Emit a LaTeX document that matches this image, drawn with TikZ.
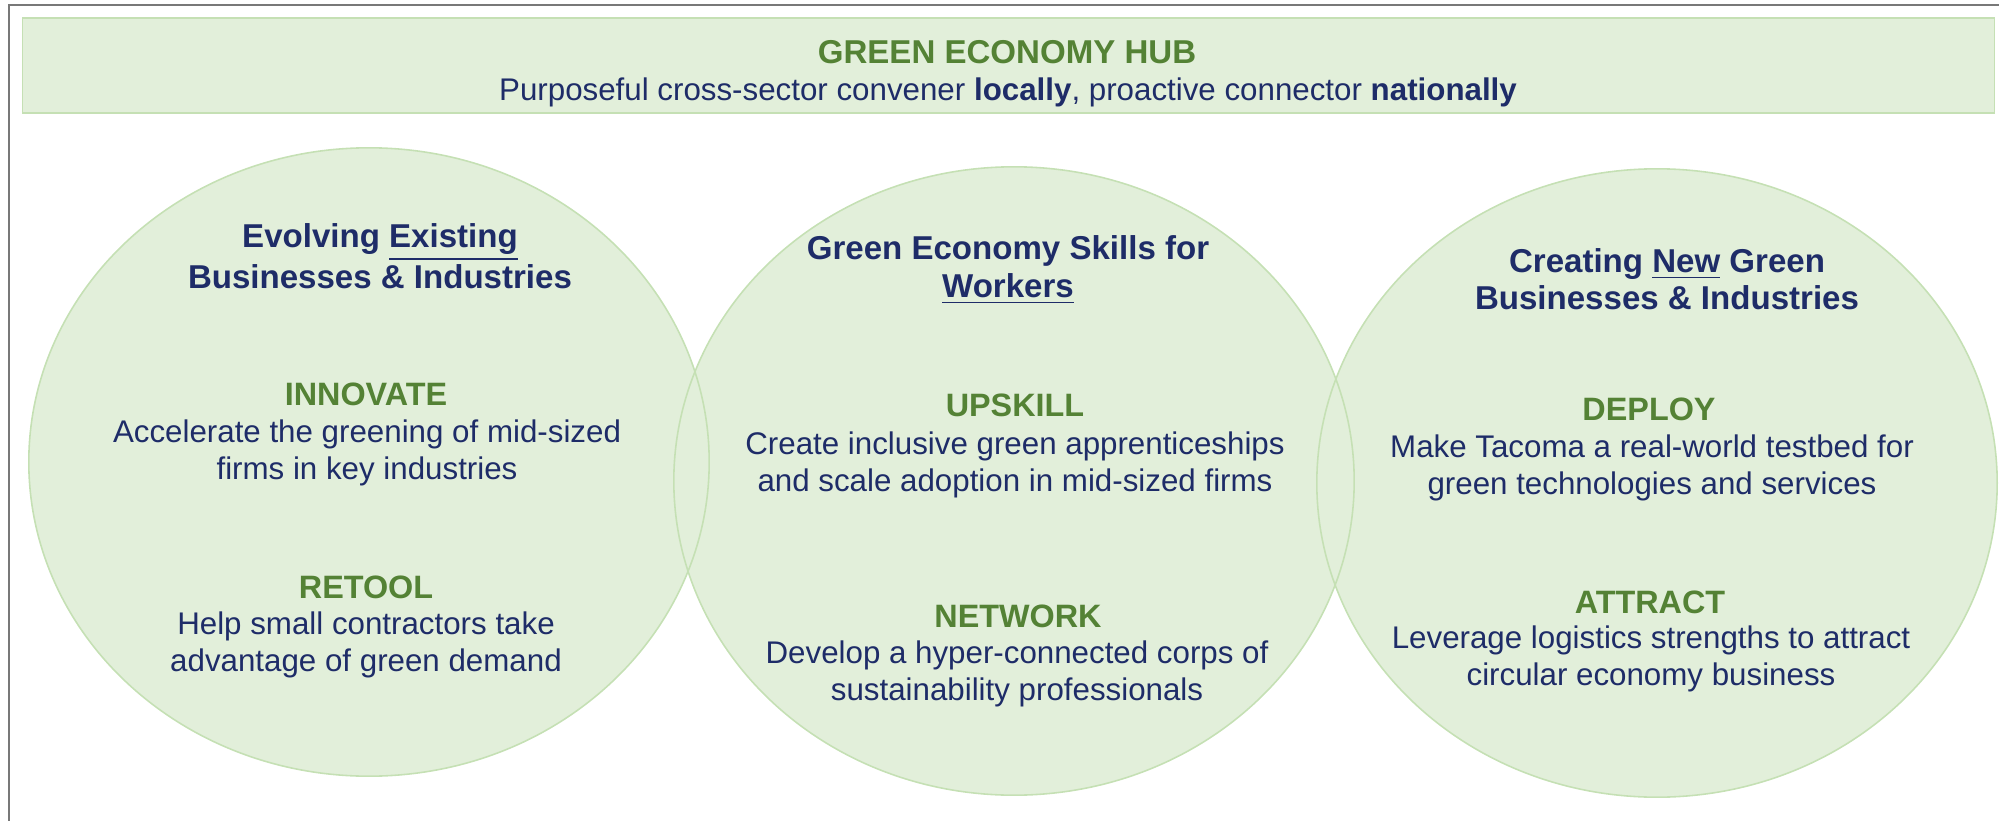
\documentclass[tikz,border=0pt]{standalone}
\usepackage{fontspec}
\setmainfont{Liberation Sans}
\usepackage{xcolor}
\usepackage{tikz}
\usetikzlibrary{positioning}
\definecolor{hubfill}{RGB}{226,239,218}
\definecolor{hubedge}{RGB}{197,224,180}
\definecolor{actiongreen}{RGB}{84,130,53}
\definecolor{navytext}{RGB}{30,44,104}
\definecolor{framegray}{RGB}{120,120,120}

\begin{document}
\begin{tikzpicture}[x=0.01cm, y=-0.01cm,
        pillartitle/.style={text=navytext, align=center, font=\fontsize{9.4}{10.7}\selectfont\bfseries},
        actionlabel/.style={text=actiongreen, font=\fontsize{9.2}{11}\selectfont\bfseries},
        actiontext/.style={text=navytext, align=center, font=\fontsize{8.9}{10.7}\selectfont}]
    \useasboundingbox (0,0) rectangle (1999,821);
    % outer frame
    \draw[framegray, line width=0.75pt] (9,821) -- (9,5) -- (1999,5);

    % hub banner
    \node[draw=hubedge, fill=hubfill, line width=0.45pt, minimum width=19.71cm, minimum height=0.95cm, inner sep=0pt] (hub) at (1008.5,65.5) {};
    \node[text=actiongreen, font=\fontsize{9.4}{11}\selectfont\bfseries] (hubtitle) at (1007,52) {GREEN ECONOMY HUB};
    \node[text=navytext, font=\fontsize{8.9}{11}\selectfont] (hubline) at (1008,92) {Purposeful cross-sector convener \textbf{locally}, proactive connector \textbf{nationally}};

    % the three pillars
    \foreach \cx/\cy in {369/462, 1014/481, 1657/483}
        \fill[hubfill] (\cx,\cy) ellipse [x radius=3.40cm, y radius=3.14cm];
    \foreach \cx/\cy in {369/462, 1014/481, 1657/483}
        \draw[hubedge, line width=0.45pt] (\cx,\cy) ellipse [x radius=3.40cm, y radius=3.14cm];

    % existing businesses
    \node[pillartitle] (existing) at (380,256) {Evolving \underline{Existing}\\Businesses \& Industries};
    \node[actionlabel] (innovate) at (366,394) {INNOVATE};
    \node[actiontext] (innovatetext) at (367,453) {Accelerate the greening of mid-sized\\firms in key industries};
    \node[actionlabel] (retool) at (366,587) {RETOOL};
    \node[actiontext] (retooltext) at (366,645) {Help small contractors take\\advantage of green demand};

    % workers
    \node[pillartitle] (workers) at (1008,270) {Green Economy Skills for\\\underline{Workers}};
    \node[actionlabel] (upskill) at (1015,405) {UPSKILL};
    \node[actiontext] (upskilltext) at (1015,465) {Create inclusive green apprenticeships\\and scale adoption in mid-sized firms};
    \node[actionlabel] (network) at (1018,616) {NETWORK};
    \node[actiontext] (networktext) at (1017,674) {Develop a hyper-connected corps of\\sustainability professionals};

    % new businesses
    \node[pillartitle] (newbiz) at (1667,279) {Creating \underline{New} Green\\Businesses \& Industries};
    \node[actionlabel] (deploy) at (1649,409) {DEPLOY};
    \node[actiontext] (deploytext) at (1652,468) {Make Tacoma a real-world testbed for\\green technologies and services};
    \node[actionlabel] (attract) at (1650,602) {ATTRACT};
    \node[actiontext] (attracttext) at (1651,659) {Leverage logistics strengths to attract\\circular economy business};
\end{tikzpicture}
\end{document}
